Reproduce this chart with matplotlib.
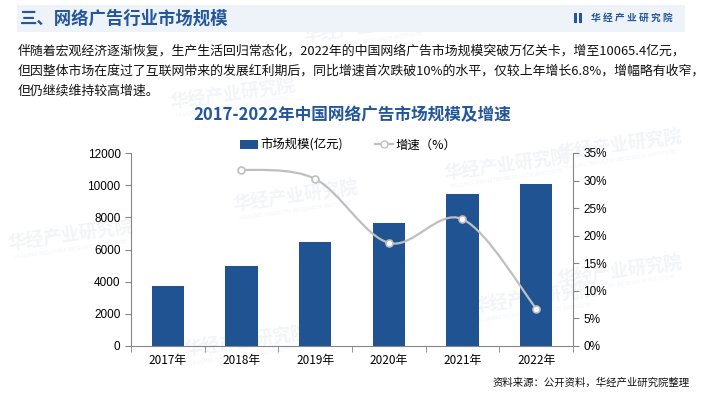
import numpy as np
import matplotlib.pyplot as plt
from matplotlib.path import Path
from matplotlib.patches import PathPatch, Rectangle
from matplotlib.lines import Line2D

plt.rcParams['font.family'] = ['Noto Sans CJK SC', 'DejaVu Sans']

years = ['2017年', '2018年', '2019年', '2020年', '2021年', '2022年']
market_size = [3750, 4950, 6450, 7660, 9424, 10065.4]   # 亿元
growth = [None, 32.0, 30.3, 18.7, 23.0, 6.8]            # %

bar_color = '#1f5392'
line_color = '#bfbfbf'
title_color = '#23569a'
axis_color = '#868686'

fig = plt.figure(figsize=(7.04, 3.93), dpi=100)

# faint watermarks, behind everything
marks = [(0.52, 0.93), (0.33, 0.76), (0.42, 0.50), (0.72, 0.58), (0.76, 0.24),
         (0.10, 0.40), (0.35, 0.13), (0.88, 0.63), (0.88, 0.31)]
for mx, my in marks:
    fig.text(mx, my, '华经产业研究院', fontsize=13, fontweight='bold', color='#f2f4f7',
             rotation=8, ha='center', va='center', zorder=-5)
    fig.text(mx, my - 0.035, 'HUAJING INDUSTRY RESEARCH INSTITUTE', fontsize=4,
             color='#f2f4f7', rotation=8, ha='center', va='center', zorder=-5,
             family='DejaVu Sans')

# header band
fig.patches.append(Rectangle((17 / 704, 1 - 32 / 393), 668 / 704, 27 / 393,
                             transform=fig.transFigure, facecolor='#eef3fa',
                             edgecolor='none', zorder=1))
fig.text(20 / 704, 1 - 18.5 / 393, '三、网络广告行业市场规模', fontsize=12.5, fontweight='bold',
         color=title_color, va='center', ha='left', zorder=2)
for bx in (574, 579):
    fig.patches.append(Rectangle((bx / 704, 1 - 23 / 393), 3 / 704, 10 / 393,
                                 transform=fig.transFigure, facecolor=title_color,
                                 edgecolor='none', zorder=2))
fig.text(591 / 704, 1 - 18 / 393, '华 经 产 业 研 究 院', fontsize=7, fontweight='bold',
         color=title_color, va='center', ha='left', zorder=2)

para = ['伴随着宏观经济逐渐恢复，生产生活回归常态化，2022年的中国网络广告市场规模突破万亿关卡，增至10065.4亿元，',
        '但因整体市场在度过了互联网带来的发展红利期后，同比增速首次跌破10%的水平，仅较上年增长6.8%，增幅略有收窄，',
        '但仍继续维持较高增速。']
for i, line in enumerate(para):
    fig.text(18 / 704, 1 - (51 + 20 * i) / 393, line, fontsize=9.3, color='#111111',
             va='center', ha='left')

fig.text(0.5, 1 - 115 / 393, '2017-2022年中国网络广告市场规模及增速', fontsize=12,
         fontweight='bold', color=title_color, ha='center', va='center')

fig.text(0.98, 1 - 383 / 393, '资料来源：公开资料，华经产业研究院整理', fontsize=7.5,
         color='#111111', ha='right', va='center')

# chart
ax = fig.add_axes([131 / 704, 1 - 346 / 393, 442 / 704, 193 / 393])
ax.set_facecolor('none')
x = np.arange(len(years))
bars = ax.bar(x, market_size, width=0.44, color=bar_color, zorder=2)
ax.set_ylim(0, 12000)
ax.set_yticks(range(0, 12001, 2000))
ax.set_xlim(-0.5, len(years) - 0.5)
ax.set_xticks(x)
ax.set_xticklabels(years, fontsize=8.5)
ax.set_xticks(np.arange(-0.5, len(years), 1), minor=True)
ax.tick_params(axis='x', which='major', length=0, pad=6)
ax.tick_params(axis='x', which='minor', length=4, color=axis_color, direction='out')
ax.tick_params(axis='y', length=4, color=axis_color, labelsize=8.5)
for lab in ax.get_yticklabels():
    lab.set_family('Liberation Sans')
for s in ['top', 'right']:
    ax.spines[s].set_visible(False)
for s in ['left', 'bottom']:
    ax.spines[s].set_color(axis_color)

ax2 = ax.twinx()
ax2.set_ylim(0, 35)
ax2.set_yticks(range(0, 36, 5))
ax2.set_yticklabels([f'{v}%' for v in range(0, 36, 5)])
ax2.tick_params(axis='y', length=4, color=axis_color, labelsize=8.5)
for lab in ax2.get_yticklabels():
    lab.set_family('Liberation Sans')
for s in ['top', 'left', 'bottom']:
    ax2.spines[s].set_visible(False)
ax2.spines['right'].set_color(axis_color)

# smoothed growth line (bezier through the data points)
gx = np.array([i for i, g in enumerate(growth) if g is not None], dtype=float)
gy = np.array([g for g in growth if g is not None], dtype=float)
pts = np.column_stack([gx, gy])
ext = np.vstack([pts[0], pts, pts[-1]])
verts = [pts[0]]
codes = [Path.MOVETO]
for i in range(len(pts) - 1):
    p0, p1, p2, p3 = ext[i], ext[i + 1], ext[i + 2], ext[i + 3]
    verts += [p1 + (p2 - p0) / 6, p2 - (p3 - p1) / 6, p2]
    codes += [Path.CURVE4] * 3
ax2.add_patch(PathPatch(Path(verts, codes), fill=False, edgecolor=line_color, lw=1.6, zorder=3))
ax2.plot(gx, gy, 'o', color=line_color, markerfacecolor='white', markeredgecolor=line_color,
         markersize=5, mew=1.2, linestyle='none', zorder=4)

# legend
handles = [bars, Line2D([], [], color=line_color, lw=1.6, marker='o', markersize=5,
                        markerfacecolor='white', markeredgecolor=line_color)]
fig.legend(handles, ['市场规模(亿元)', '增速（%）'], loc='center', ncol=2,
           bbox_to_anchor=(0.495, 1 - 145 / 393), frameon=False, fontsize=8.9,
           handlelength=1.4, handleheight=0.8, columnspacing=2.6, handletextpad=0.25)

fig.savefig('out.png', dpi=100)
